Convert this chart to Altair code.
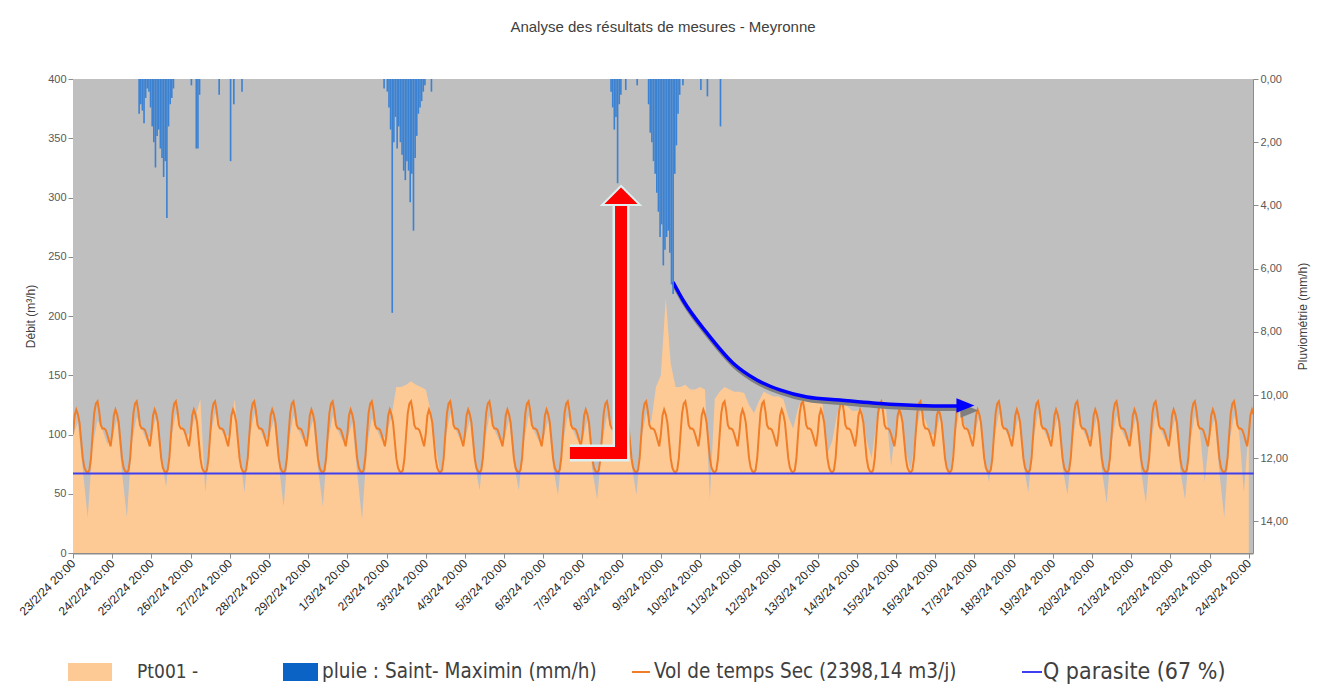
import altair as alt
import pandas as pd

# ---------------- data ----------------
START = pd.Timestamp("2024-02-23 20:00")

# Pt001 measured flow (m3/h), one row per day starting at 20:00, samples every 3 h:
# 20h, 23h, 02h, 05h, 08h, 11h, 14h, 17h
flow_rows = [
    [100, 110, 70, 30, 90, 112, 104, 92],     # 23/2
    [98, 112, 68, 30, 92, 115, 105, 95],      # 24/2
    [100, 115, 80, 56, 95, 118, 108, 98],     # 25/2
    [102, 115, 130, 51, 98, 118, 106, 98],    # 26/2
    [100, 130, 85, 51, 96, 118, 106, 96],     # 27/2
    [98, 112, 75, 39, 92, 116, 104, 95],      # 28/2
    [98, 112, 72, 39, 92, 116, 104, 95],      # 29/2
    [96, 110, 68, 28, 90, 114, 104, 95],      # 1/3
    [100, 115, 140, 140, 142, 145, 142, 140], # 2/3
    [138, 120, 90, 66, 95, 118, 105, 96],     # 3/3
    [96, 112, 75, 53, 92, 116, 104, 95],      # 4/3
    [96, 112, 75, 53, 92, 116, 104, 95],      # 5/3
    [96, 112, 72, 49, 92, 116, 104, 95],      # 6/3
    [96, 112, 70, 45, 92, 116, 104, 95],      # 7/3
    [98, 115, 75, 49, 95, 118, 110, 140],     # 8/3
    [150, 215, 160, 140, 140, 142, 138, 138], # 9/3
    [140, 138, 45, 130, 136, 140, 138, 136],  # 10/3
    [136, 135, 125, 118, 128, 136, 134, 132], # 11/3
    [132, 130, 115, 105, 122, 132, 130, 128], # 12/3
    [128, 126, 84, 95, 118, 128, 124, 120],   # 13/3
    [120, 122, 95, 80, 110, 125, 120, 73],    # 14/3
    [110, 118, 85, 70, 100, 120, 112, 100],   # 15/3
    [100, 115, 80, 65, 98, 120, 108, 100],    # 16/3
    [100, 115, 78, 60, 95, 118, 106, 98],     # 17/3
    [98, 114, 75, 51, 94, 118, 105, 96],      # 18/3
    [98, 114, 72, 49, 94, 118, 105, 96],      # 19/3
    [98, 114, 70, 42, 92, 116, 104, 95],      # 20/3
    [98, 114, 70, 42, 92, 116, 104, 95],      # 21/3
    [98, 114, 70, 45, 92, 116, 104, 60],      # 22/3
    [98, 114, 68, 30, 92, 116, 104, 51],      # 23/3
    [105],                                    # 24/3 20h
]
FLOW_STEP_H = 3

# Dry-weather typical day (m3/h) by clock hour 0..23
dry_clock_hours = list(range(24))
dry_profile = [110, 95, 80, 72, 69, 68, 70, 80, 100, 118, 126, 128,
               120, 108, 105, 105, 104, 100, 95, 90, 100, 116, 121, 117]
DRY_LAST_HOUR = 723

# Q parasite
q_parasite = 67

# Rain Saint-Maximin (mm/h): hour index from 23/2 20:00 and value
rain_hours = [40, 41, 42, 43, 44, 45, 46, 47, 48, 49, 50, 51, 52, 53, 54, 55, 56, 57, 58, 59, 60, 61,
              72, 75, 76, 77, 89, 96, 98, 103,
              190, 192, 193, 194, 195, 196, 197, 198, 199, 200, 201, 202, 203, 204, 205, 206, 207, 208,
              209, 210, 211, 212, 213, 214, 215, 219,
              329, 330, 331, 332, 333, 334, 335, 338, 345,
              352, 353, 354, 355, 356, 357, 358, 359, 360, 361, 362, 363, 364, 365, 366, 367, 368,
              369, 370, 371, 373, 384, 388, 396]
rain_mm = [1.1, 0.8, 1.0, 1.4, 0.6, 0.3, 0.4, 0.9, 1.5, 2.0, 2.8, 1.8, 1.6, 2.2, 2.5, 3.1, 2.6, 4.4,
           1.5, 0.8, 0.6, 0.3,
           0.2, 2.2, 2.2, 0.5, 0.5, 2.6, 0.8, 0.4,
           0.3, 0.4, 0.9, 1.6, 7.4, 2.0, 1.2, 2.2, 1.5, 2.0, 2.4, 2.9, 3.2, 2.6, 2.9, 3.9, 3.0, 4.8,
           2.5, 1.8, 1.1, 0.9, 0.7, 0.4, 0.2, 0.4,
           0.4, 0.9, 1.6, 1.2, 3.3, 0.8, 0.5, 0.35, 0.2,
           0.8, 1.7, 2.0, 2.6, 3.0, 3.6, 4.2, 5.0, 4.6, 5.9, 5.4, 5.0, 4.8, 5.5, 6.5, 6.8, 3.0,
           2.1, 1.1, 0.5, 0.2, 0.35, 0.55, 1.5]

# x-axis day ticks (20:00 each day)
tick_days = [(2, d) for d in range(23, 30)] + [(3, d) for d in range(1, 25)]

# Annotations (hour index, m3/h)
red_arrow_h = [304.3, 335.6, 335.6]
red_arrow_v = [84.4, 84.4, 294.0]
red_head_h = [335.6]
red_head_v = [301.7]
blue_curve_h = [367.4, 373.5, 388.2, 404.1, 418.8, 432.9, 449.5, 469.7, 489.9, 510.7, 530.9, 541.9]
blue_curve_v = [228.7, 213.5, 185.7, 160.4, 146.0, 137.6, 131.6, 129.1, 126.6, 124.9, 124.1, 124.1]
blue_head_h = [546.5]
blue_head_v = [124.5]

# Legend
legend_labels = ["Pt001 -", "pluie : Saint- Maximin (mm/h)",
                 "Vol de temps Sec (2398,14 m3/j)", "Q parasite (67 %)"]

W, H = 1180, 474
FONT = "Liberation Sans, Arial, sans-serif"
LFONT = "DejaVu Sans Condensed, Liberation Sans, Arial, sans-serif"

# ---------------- tables ----------------
def ts(h):
    return (START + pd.Timedelta(hours=h)).strftime("%Y-%m-%dT%H:%M:%S")

flow_vals = [v for row in flow_rows for v in row]
flow_df = pd.DataFrame({"t": [ts(i * FLOW_STEP_H) for i in range(len(flow_vals))], "v": flow_vals})

dry_t, dry_v = [], []
for h in range(DRY_LAST_HOUR + 1):
    clock = (START + pd.Timedelta(hours=h)).hour
    dry_t.append(ts(h))
    dry_v.append(dry_profile[dry_clock_hours.index(clock)])
dry_df = pd.DataFrame({"t": dry_t, "v": dry_v})

q_df = pd.DataFrame({"t": [ts(0)], "t2": [ts(DRY_LAST_HOUR)], "v": [q_parasite]})

rain_df = pd.DataFrame({"t": [ts(h) for h in rain_hours],
                        "t2": [ts(h + 1) for h in rain_hours],
                        "r": rain_mm})

red_df = pd.DataFrame({"t": [ts(h) for h in red_arrow_h], "v": red_arrow_v, "o": [0, 1, 2]})
red_head_df = pd.DataFrame({"t": [ts(h) for h in red_head_h], "v": red_head_v})
blue_df = pd.DataFrame({"t": [ts(h) for h in blue_curve_h], "v": blue_curve_v,
                        "o": list(range(len(blue_curve_h)))})
blue_head_df = pd.DataFrame({"t": [ts(h) for h in blue_head_h], "v": blue_head_v})

# ---------------- scales/axes ----------------
x_scale = alt.Scale(domain=[alt.DateTime(year=2024, month=2, date=23, hours=20),
                            alt.DateTime(year=2024, month=3, date=24, hours=22, minutes=36)])
x_axis = alt.Axis(values=[alt.DateTime(year=2024, month=m, date=d, hours=20) for m, d in tick_days],
                  format="%-d/%-m/%y %H:%M", labelAngle=-45, labelAlign="right",
                  labelBaseline="middle", labelFontSize=12, labelColor="#262626",
                  labelFont=FONT, labelPadding=3,
                  tickSize=5, tickColor="#8C8C8C", domainColor="#8C8C8C", domainWidth=2,
                  grid=False, title=None, labelOverlap=False)
X = alt.X("t:T", scale=x_scale, axis=x_axis, title=None)

y_scale = alt.Scale(domain=[0, 400], nice=False, zero=True)
y_axis = alt.Axis(values=list(range(0, 401, 50)), title="Débit (m³/h)", grid=False,
                  labelColor="#595959", labelFontSize=11, labelFont=FONT, titleFontSize=12,
                  titleColor="#404040", titleFontWeight="normal", titleFont=FONT,
                  tickColor="#8C8C8C", domainColor="#8C8C8C", tickSize=5, titlePadding=10)
Y = alt.Y("v:Q", scale=y_scale, axis=y_axis)

r_scale = alt.Scale(domain=[0, 15], reverse=True, nice=False)
r_axis = alt.Axis(orient="right", values=list(range(0, 15, 2)),
                  labelExpr="replace(format(datum.value, '.2f'), '.', ',')",
                  title="Pluviométrie (mm/h)", titleAngle=270, grid=False,
                  labelColor="#595959", labelFontSize=11, labelFont=FONT, titleFontSize=12,
                  titleColor="#404040", titleFontWeight="normal", titleFont=FONT,
                  tickColor="#8C8C8C", domainColor="#8C8C8C", tickSize=5, titlePadding=22)

# ---------------- layers ----------------
one = pd.DataFrame({"a": [0]})
plot_bg = alt.Chart(one).mark_rect(color="#BFBFBF").encode(
    x=alt.value(0), x2=alt.value(W), y=alt.value(0), y2=alt.value(H))

area = alt.Chart(flow_df).mark_area(color="#FDCA96", clip=True).encode(x=X, y=Y)
dry = alt.Chart(dry_df).mark_line(color="#F07D28", strokeWidth=2, clip=True).encode(x=X, y=Y)
qline = alt.Chart(q_df).mark_rule(color="#3F3FF0", strokeWidth=2).encode(
    x=X, x2="t2:T", y=Y)

red_outline = alt.Chart(red_df).mark_line(color="#DDEFEF", strokeWidth=17, strokeJoin="miter",
                                          strokeCap="butt").encode(x=X, y=Y, order="o:Q")
red_line = alt.Chart(red_df).mark_line(color="#FF0000", strokeWidth=12, strokeJoin="miter",
                                       strokeCap="butt").encode(x=X, y=Y, order="o:Q")
red_head = alt.Chart(red_head_df).mark_point(
    shape="M-1,0.5L0,-0.5L1,0.5Z", size=1444, filled=True, fill="#FF0000", opacity=1,
    stroke="#DDEFEF", strokeWidth=2).encode(x=X, y=Y)

blue_shadow = alt.Chart(blue_df).mark_line(color="#7F7F7F", strokeWidth=4, interpolate="monotone",
                                           yOffset=3, xOffset=1).encode(x=X, y=Y, order="o:Q")
blue_line = alt.Chart(blue_df).mark_line(color="#0000FF", strokeWidth=3.5,
                                         interpolate="monotone").encode(x=X, y=Y, order="o:Q")
blue_head_sh = alt.Chart(blue_head_df).mark_point(
    shape="M-1,-0.8L1,0L-1,0.8Z", size=324, filled=True, fill="#7F7F7F", opacity=1,
    strokeWidth=0, xOffset=4, yOffset=5).encode(x=X, y=Y)
blue_head = alt.Chart(blue_head_df).mark_point(
    shape="M-1,-0.8L1,0L-1,0.8Z", size=324, filled=True, fill="#0000FF", opacity=1,
    strokeWidth=0).encode(x=X, y=Y)

flow_layer = alt.layer(plot_bg, area, dry, qline, red_outline, red_line, red_head,
                       blue_shadow, blue_line, blue_head_sh, blue_head)

rain = alt.Chart(rain_df).mark_bar(color="#3C82D2", clip=True).encode(
    x=X, x2="t2:T", y=alt.Y("r:Q", scale=r_scale, axis=r_axis), y2=alt.datum(0))

# ---------------- legend (below the plot) ----------------
LEG_Y = 593
leg = [
    alt.Chart(one).mark_rect(color="#FDCA96").encode(
        x=alt.value(-5), x2=alt.value(39), y=alt.value(LEG_Y - 9), y2=alt.value(LEG_Y + 9)),
    alt.Chart(one).mark_text(align="left", baseline="middle", fontSize=19, font=LFONT,
                             color="#404040").encode(
        x=alt.value(64), y=alt.value(LEG_Y), text=alt.value(legend_labels[0])),
    alt.Chart(one).mark_rect(color="#0B63C6").encode(
        x=alt.value(210), x2=alt.value(245), y=alt.value(LEG_Y - 9), y2=alt.value(LEG_Y + 9)),
    alt.Chart(one).mark_text(align="left", baseline="middle", fontSize=20.5, font=LFONT,
                             color="#404040").encode(
        x=alt.value(249), y=alt.value(LEG_Y), text=alt.value(legend_labels[1])),
    alt.Chart(one).mark_rule(color="#F07D28", strokeWidth=2).encode(
        x=alt.value(559), x2=alt.value(577), y=alt.value(LEG_Y)),
    alt.Chart(one).mark_text(align="left", baseline="middle", fontSize=20.5, font=LFONT,
                             color="#404040").encode(
        x=alt.value(581), y=alt.value(LEG_Y), text=alt.value(legend_labels[2])),
    alt.Chart(one).mark_rule(color="#3F3FF0", strokeWidth=2).encode(
        x=alt.value(949), x2=alt.value(969), y=alt.value(LEG_Y)),
    alt.Chart(one).mark_text(align="left", baseline="middle", fontSize=23, font=LFONT,
                             color="#404040").encode(
        x=alt.value(970), y=alt.value(LEG_Y), text=alt.value(legend_labels[3])),
]

chart = alt.layer(flow_layer, rain, *leg).resolve_scale(y="independent").properties(
    width=W, height=H,
    title=alt.TitleParams("Analyse des résultats de mesures - Meyronne", fontSize=15,
                          font=FONT, color="#404040", fontWeight="normal",
                          anchor="middle", offset=38),
    autosize=alt.AutoSizeParams(type="none"),
    padding={"left": 65, "top": 71, "right": 69, "bottom": 132},
).configure_view(stroke="#A6A6A6", strokeWidth=1).configure(background="white")

chart.save("out.html", embed_options={"renderer": "svg", "actions": False})
